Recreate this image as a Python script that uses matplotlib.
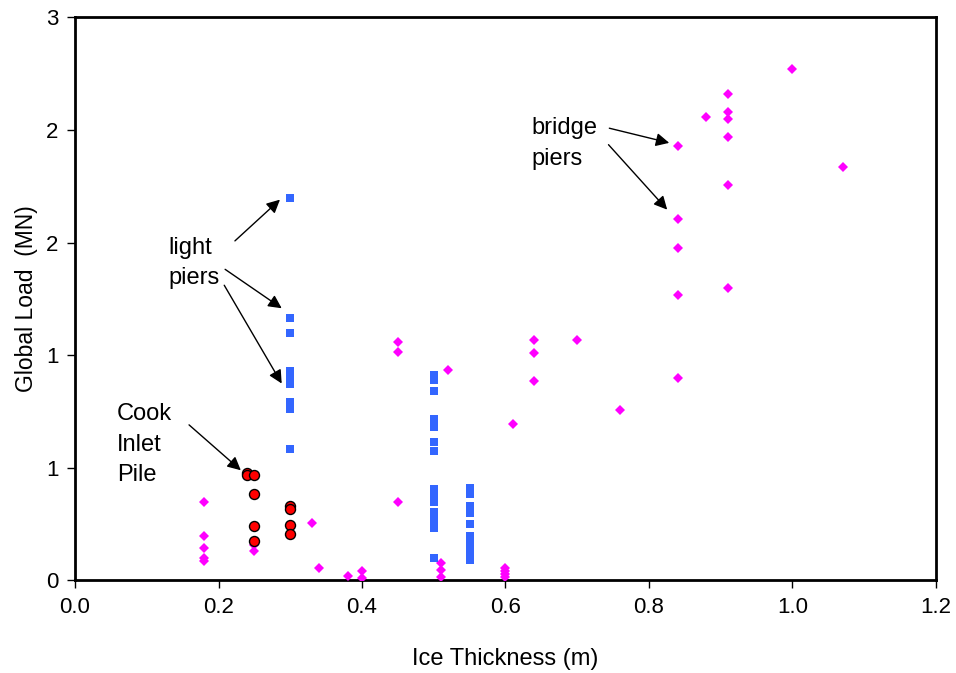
import matplotlib
matplotlib.use('Agg')
import matplotlib.pyplot as plt

plt.rcParams['font.family'] = ['Liberation Sans', 'DejaVu Sans']

# bridge piers and other structures (magenta diamonds)
bridge_x = [0.18, 0.18, 0.18, 0.18, 0.18, 0.25, 0.25, 0.33, 0.34, 0.38,
            0.40, 0.40, 0.45, 0.45, 0.45, 0.51, 0.51, 0.51, 0.52,
            0.60, 0.60, 0.60, 0.60, 0.61, 0.64, 0.64, 0.64, 0.70, 0.76,
            0.84, 0.84, 0.84, 0.84, 0.84, 0.88,
            0.91, 0.91, 0.91, 0.91, 0.91, 0.91, 1.00, 1.07]
bridge_y = [0.347, 0.196, 0.142, 0.098, 0.085, 0.156, 0.129, 0.254, 0.053, 0.020,
            0.040, 0.010, 1.059, 1.014, 0.347, 0.076, 0.044, 0.013, 0.934,
            0.053, 0.040, 0.027, 0.013, 0.694, 1.068, 1.010, 0.885, 1.068, 0.756,
            1.931, 1.606, 1.477, 1.268, 0.899, 2.060,
            2.162, 2.082, 2.051, 1.971, 1.757, 1.299, 2.273, 1.837]

# light piers (blue squares)
light_x = [0.30] * 9 + [0.50] * 14 + [0.55] * 11
light_y = [1.699, 1.165, 1.099, 0.930, 0.894, 0.872, 0.792, 0.761, 0.583,
           0.912, 0.890, 0.841, 0.716, 0.681, 0.614, 0.574, 0.405, 0.374,
           0.347, 0.302, 0.267, 0.231, 0.098,
           0.409, 0.383, 0.329, 0.298, 0.249, 0.196, 0.173, 0.151, 0.129,
           0.107, 0.089]

# Cook Inlet pile (red circles)
cook_x = [0.24, 0.24, 0.25, 0.25, 0.25, 0.25, 0.30, 0.30, 0.30, 0.30]
cook_y = [0.476, 0.465, 0.467, 0.383, 0.240, 0.173, 0.329, 0.316, 0.245, 0.205]

x_ticks = [0.0, 0.2, 0.4, 0.6, 0.8, 1.0, 1.2]
y_ticks = [0.0, 0.5, 1.0, 1.5, 2.0, 2.5]
y_tick_labels = ['0', '1', '1', '2', '2', '3']

fig = plt.figure(figsize=(9.56, 6.73), dpi=100)
ax = fig.add_axes([0.0785, 0.138, 0.9005, 0.836])

ax.plot(bridge_x, bridge_y, 'D', color='#FF00FF', markersize=5.2, markeredgewidth=0, zorder=3)
ax.plot(light_x, light_y, 's', color='#3366FF', markersize=5.8, markeredgewidth=0, zorder=3)
ax.plot(cook_x, cook_y, 'o', markerfacecolor='#FF0000', markeredgecolor='black',
        markersize=7.2, markeredgewidth=1, zorder=4)

ax.set_xlim(0, 1.2)
ax.set_ylim(0, 2.5)
ax.set_xticks(x_ticks)
ax.set_xticklabels([f'{v:.1f}' for v in x_ticks])
ax.set_yticks(y_ticks)
ax.set_yticklabels(y_tick_labels)
ax.tick_params(direction='out', length=6, width=1, labelsize=16, pad=6)
for s in ax.spines.values():
    s.set_linewidth(2)

ax.set_xlabel('Ice Thickness (m)', fontsize=17, labelpad=22)
ax.set_ylabel('Global Load  (MN)', fontsize=16.5, labelpad=6)

# annotations
txt_kw = dict(fontsize=17, ha='left', va='top', linespacing=1.5)
arrow_kw = dict(arrowstyle='-|>', color='black', lw=1, mutation_scale=20)

ax.text(0.130, 1.525, 'light\npiers', **txt_kw)
ax.annotate('', xy=(0.2885, 1.699), xytext=(0.220, 1.499), arrowprops=arrow_kw)
ax.annotate('', xy=(0.2913, 1.201), xytext=(0.206, 1.388), arrowprops=arrow_kw)
ax.annotate('', xy=(0.290, 0.863), xytext=(0.206, 1.321), arrowprops=arrow_kw)

ax.text(0.058, 0.785, 'Cook\nInlet\nPile', **txt_kw)
ax.annotate('', xy=(0.234, 0.480), xytext=(0.156, 0.698), arrowprops=arrow_kw)

ax.text(0.636, 2.057, 'bridge\npiers', **txt_kw)
ax.annotate('', xy=(0.832, 1.940), xytext=(0.741, 2.011), arrowprops=arrow_kw)
ax.annotate('', xy=(0.828, 1.637), xytext=(0.741, 1.944), arrowprops=arrow_kw)

fig.savefig('out.png', dpi=100)
